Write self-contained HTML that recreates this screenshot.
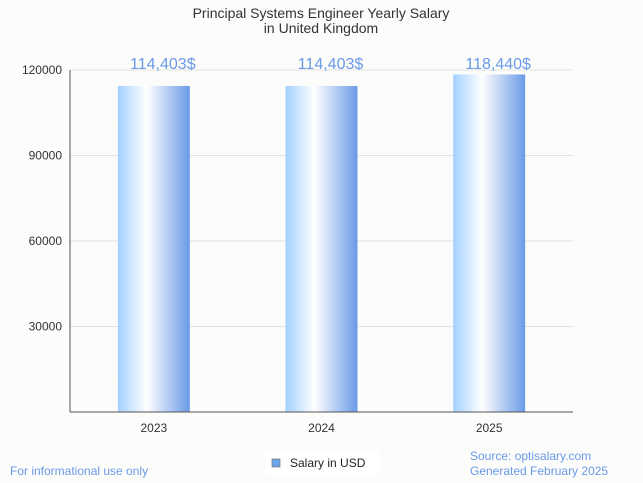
<!DOCTYPE html>
<html><head><meta charset="utf-8"><style>
body{margin:0;background:#fcfcfb;font-family:"Liberation Sans",sans-serif;}
svg{display:block}
</style></head><body>
<svg width="643" height="483">
<defs><linearGradient id="g" x1="0" x2="1" y1="0" y2="0">
<stop offset="0" stop-color="#a3d0ff"/><stop offset="0.4" stop-color="#ffffff"/><stop offset="1" stop-color="#6a9ae8"/></linearGradient></defs>
<rect width="643" height="483" fill="#fcfcfb"/>
<text x="321" y="18" text-anchor="middle" font-size="14" fill="#333">Principal Systems Engineer Yearly Salary</text>
<text x="321" y="33" text-anchor="middle" font-size="14" fill="#333">in United Kingdom</text>
<g id="grid"></g><g id="bars"></g>
<line x1="70" y1="70" x2="70" y2="412" stroke="#555"/>
<line x1="70" y1="412" x2="573" y2="412" stroke="#555"/>
<text x="10" y="475" font-size="12" fill="#6a9ae8">For informational use only</text>
<text x="470" y="460" font-size="12" fill="#6a9ae8">Source: optisalary.com</text>
<text x="470" y="475" font-size="12" fill="#6a9ae8">Generated February 2025</text>
<rect x="265" y="451" width="115" height="24" fill="#fff"/>
<rect x="272" y="459" width="8" height="8" fill="#6aa5e8" stroke="#777" stroke-width="0.7"/>
<text x="290" y="467" font-size="12" fill="#222">Salary in USD</text>
</svg>
<script>
const categories=["2023","2024","2025"];
const values=[114403,114403,118440];
const labels=["114,403$","114,403$","118,440$"];
const ticks=[30000,60000,90000,120000];
const ns="http://www.w3.org/2000/svg";
const x0=70,x1=573,y0=412,y1=70,ymax=120000;
const y=v=>y0-(v/ymax)*(y0-y1);
const bw=(x1-x0)/categories.length;
const cx=i=>x0+bw*(i+0.5);
function mk(t,a,txt){const e=document.createElementNS(ns,t);for(const k in a)e.setAttribute(k,a[k]);if(txt!=null)e.textContent=txt;return e;}
const grid=document.getElementById('grid'),bars=document.getElementById('bars');
ticks.forEach(t=>{
 const l=mk('line',{x1:x0,x2:x1,y1:y(t),y2:y(t),stroke:'#e2e2e2'});
 
 
 grid.appendChild(l);
 const tx=mk('text',{x:62,y:y(t)+4,'text-anchor':'end','font-size':12,fill:'#333'},t);
 
 
 grid.appendChild(tx);
});
categories.forEach((c,i)=>{
 const r=mk('rect',{x:cx(i)-36,y:y(values[i]),width:72,height:y0-y(values[i]),fill:'url(#g)'});
 
 
 bars.appendChild(r);
 const v=mk('text',{x:cx(i)+9,y:Math.max(y(values[i])-17,69),'text-anchor':'middle','font-size':16,fill:'#6a9ae8'},labels[i]);
 
 
 bars.appendChild(v);
 const xl=mk('text',{x:cx(i),y:432,'text-anchor':'middle','font-size':12,fill:'#333'},c);
 
 
 bars.appendChild(xl);
});
</script>
</body></html>
